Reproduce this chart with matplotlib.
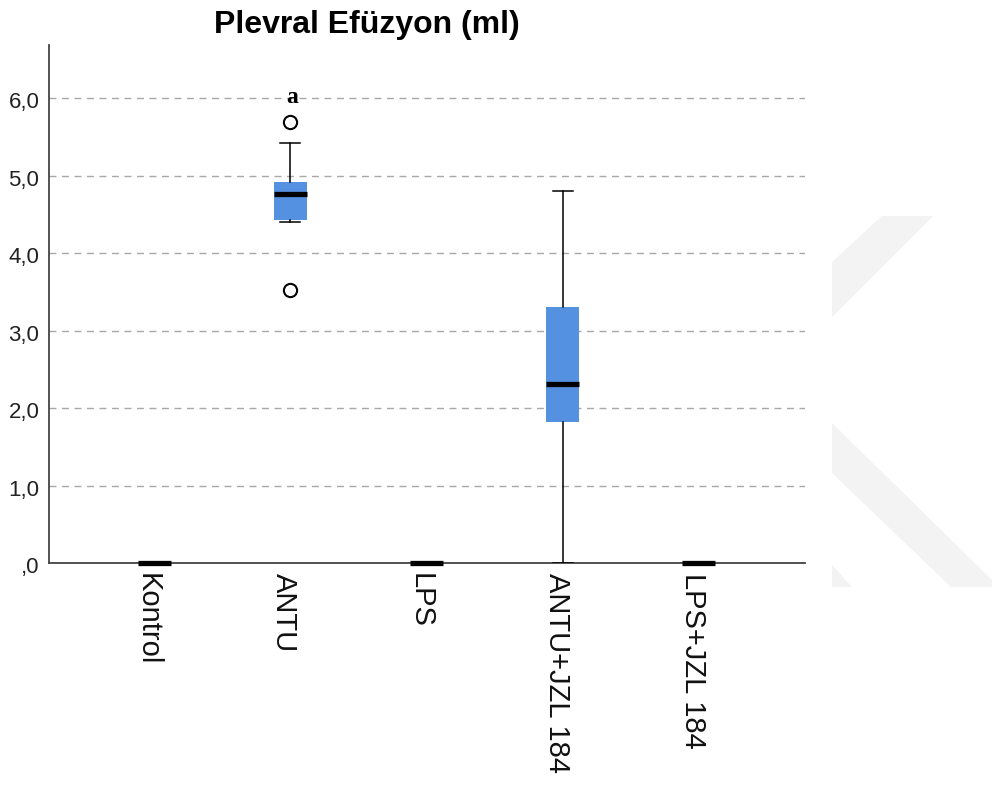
import matplotlib
matplotlib.use("Agg")
import matplotlib.pyplot as plt
from matplotlib.patches import Polygon
from matplotlib.transforms import ScaledTranslation

plt.rcParams['font.family'] = ['Liberation Sans', 'DejaVu Sans']

categories = ["Kontrol", "ANTU", "LPS", "ANTU+JZL 184", "LPS+JZL 184"]
medians = [0.0, 4.76, 0.0, 2.31, 0.0]
q1 = [0.0, 4.42, 0.0, 1.82, 0.0]
q3 = [0.0, 4.92, 0.0, 3.30, 0.0]
whislo = [0.0, 4.40, 0.0, 0.0, 0.0]
whishi = [0.0, 5.42, 0.0, 4.80, 0.0]
fliers = [[], [5.69, 3.52], [], [], []]
flier_label_group = 1
flier_label = "a"
flier_label_value = 5.94
yticks = [0, 1, 2, 3, 4, 5, 6]
yticklabels = [",0", "1,0", "2,0", "3,0", "4,0", "5,0", "6,0"]

W, H = 992, 785
fig = plt.figure(figsize=(W / 100, H / 100), dpi=100)

# watermark shapes (background)
def fpoly(pts, **kw):
    p = Polygon([(x / W, 1 - y / H) for x, y in pts], closed=True,
                transform=fig.transFigure, **kw)
    fig.patches.append(p)

wm = dict(facecolor="#f3f3f3", edgecolor="none", zorder=0)
fpoly([(882, 216), (933, 216), (832, 317), (832, 262)], **wm)
fpoly([(832, 423), (992, 580), (992, 587), (951, 587), (832, 473)], **wm)
fpoly([(832, 565), (832, 587), (852, 587)], **wm)

ax = fig.add_axes([49 / W, (H - 563) / H, (805 - 49) / W, (563 - 45) / H])
ax.patch.set_alpha(0)

stats = []
for i, c in enumerate(categories):
    stats.append(dict(label=c, med=medians[i], q1=q1[i], q3=q3[i],
                      whislo=whislo[i], whishi=whishi[i], fliers=fliers[i]))

pos = list(range(len(categories)))
res = ax.bxp(stats, positions=pos, widths=0.243, capwidths=0.147,
             patch_artist=True, showfliers=True,
             boxprops=dict(facecolor="#5591e1", edgecolor="none", linewidth=0),
             medianprops=dict(color="black", linewidth=3.8, solid_capstyle="butt"),
             whiskerprops=dict(color="black", linewidth=1.1),
             capprops=dict(color="black", linewidth=1.1),
             flierprops=dict(marker="o", markerfacecolor="none", markeredgecolor="black",
                             markersize=9.5, markeredgewidth=1.5, linestyle="none"),
             zorder=3)
for m in res["medians"]:
    m.set_clip_on(False)
    m.set_zorder(5)

ax.text(flier_label_group + 0.015, flier_label_value, flier_label,
        ha="center", va="baseline", fontsize=17, fontweight="bold",
        family=["Liberation Serif", "DejaVu Serif"], zorder=4)

ax.set_xlim(-0.772, 4.78)
ax.set_ylim(0, 6.684)
ax.set_yticks(yticks)
ax.set_yticklabels(yticklabels, fontsize=16, color="#222222")
ax.set_xticks(pos)
ax.set_xticklabels(categories, rotation=270, fontsize=21, ha="center", va="top",
                   color="#111111")
ax.tick_params(axis="both", length=0)
ax.tick_params(axis="y", pad=7)
ax.tick_params(axis="x", pad=7)
shift = ScaledTranslation(-6 / 100, 0, fig.dpi_scale_trans)
for lab in ax.get_xticklabels():
    lab.set_transform(lab.get_transform() + shift)
yshift = ScaledTranslation(0, -2 / 100, fig.dpi_scale_trans)
for lab in ax.get_yticklabels():
    lab.set_transform(lab.get_transform() + yshift)

ax.yaxis.grid(True, linestyle=(0, (5, 4)), color="#a8a8a8", linewidth=1.0, zorder=0)
ax.set_axisbelow(True)

for s in ["top", "right"]:
    ax.spines[s].set_visible(False)
ax.spines["left"].set_color("#444444")
ax.spines["bottom"].set_color("#444444")
ax.spines["left"].set_linewidth(1.3)
ax.spines["bottom"].set_linewidth(1.3)

fig.text(367 / W, 1 - 25 / H, "Plevral Efüzyon (ml)", ha="center", va="center",
         fontsize=23, fontweight="bold")

fig.savefig("out.png", dpi=100, facecolor="white")
